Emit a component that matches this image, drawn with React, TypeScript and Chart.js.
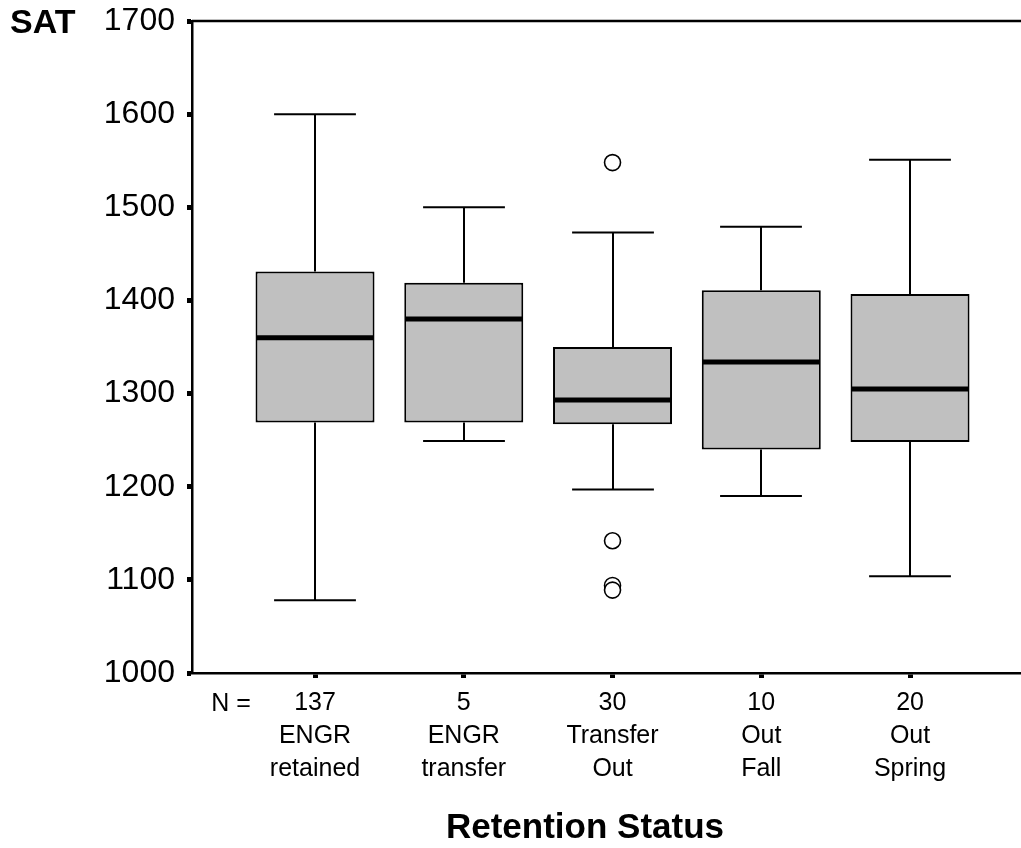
import React, { useEffect, useRef } from "react";
import { Chart, registerables } from "chart.js";
Chart.register(...registerables);

const categories = ["ENGR retained", "ENGR transfer", "Transfer Out", "Out Fall", "Out Spring"];
const nCounts = [137, 5, 30, 10, 20];
const whiskerLow = [1078, 1249, 1197, 1190, 1104];
const q1 = [1269, 1269, 1267, 1240, 1248];
const medians = [1360, 1380, 1293, 1334, 1305];
const q3 = [1431, 1419, 1350, 1411, 1407];
const whiskerHigh = [1600, 1500, 1473, 1479, 1551];
const outlierGroup = [2, 2, 2, 2];
const outlierValues = [1548, 1142, 1094, 1089];
const yMin = 1000;
const yMax = 1700;
const yStep = 100;
const xTitle = "Retention Status";
const yTitle = "SAT";
const nLabel = "N =";

const FONT = "'Liberation Sans', Arial, Helvetica, sans-serif";

export default function App() {
  const ref = useRef<HTMLCanvasElement>(null);
  useEffect(() => {
    document.body.style.margin = "0";
    const canvas = ref.current!;
    const line = (ctx: CanvasRenderingContext2D, x1: number, y1: number, x2: number, y2: number) => {
      ctx.beginPath();
      ctx.moveTo(x1, y1);
      ctx.lineTo(x2, y2);
      ctx.stroke();
    };
    const boxPlugin = {
      id: "boxplot",
      beforeDatasetsDraw(chart: any) {
        const { ctx } = chart;
        const xs = chart.scales.x;
        const ys = chart.scales.y;
        ctx.save();
        ctx.strokeStyle = "#000";
        ctx.lineWidth = 2;
        categories.forEach((_, i) => {
          const cx = Math.round(xs.getPixelForValue(i));
          const capHalf = xs.getPixelForValue(i + 0.275) - xs.getPixelForValue(i);
          line(ctx, cx, ys.getPixelForValue(q3[i]), cx, ys.getPixelForValue(whiskerHigh[i]));
          line(ctx, cx, ys.getPixelForValue(q1[i]), cx, ys.getPixelForValue(whiskerLow[i]));
          line(ctx, cx - capHalf, ys.getPixelForValue(whiskerHigh[i]), cx + capHalf, ys.getPixelForValue(whiskerHigh[i]));
          line(ctx, cx - capHalf, ys.getPixelForValue(whiskerLow[i]), cx + capHalf, ys.getPixelForValue(whiskerLow[i]));
        });
        ctx.restore();
      },
      afterDatasetsDraw(chart: any) {
        const { ctx } = chart;
        const ys = chart.scales.y;
        const meta = chart.getDatasetMeta(0);
        ctx.save();
        ctx.strokeStyle = "#000";
        ctx.lineWidth = 5;
        categories.forEach((_, i) => {
          const bar = meta.data[i];
          const { x, width } = bar.getProps(["x", "width"], true);
          const my = ys.getPixelForValue(medians[i]);
          line(ctx, x - width / 2 + 1, my, x + width / 2 - 1, my);
        });
        ctx.restore();
      },
      afterDraw(chart: any) {
        const { ctx, chartArea } = chart;
        const ys = chart.scales.y;
        ctx.save();
        ctx.strokeStyle = "#000";
        ctx.lineWidth = 2.5;
        const topY = ys.getPixelForValue(yMax);
        line(ctx, chartArea.left, topY, chart.width, topY);
        ctx.fillStyle = "#000";
        ctx.font = `bold 34px ${FONT}`;
        ctx.textAlign = "left";
        ctx.textBaseline = "middle";
        ctx.fillText(yTitle, 10, topY + 3);
        ctx.font = `25px ${FONT}`;
        ctx.textAlign = "center";
        ctx.fillText(nLabel, chartArea.left + 39, chartArea.bottom + 31);
        ctx.font = `bold 35px ${FONT}`;
        ctx.fillText(xTitle, chartArea.left + 393, chartArea.bottom + 155);
        ctx.restore();
      },
    };

    const chart = new Chart(canvas, {
      type: "bar",
      data: {
        datasets: [
          {
            type: "bar",
            data: categories.map((_, i) => ({ x: i, y: [q1[i], q3[i]] })) as any,
            backgroundColor: "#c0c0c0",
            borderColor: "#000",
            borderWidth: 2,
            borderSkipped: false,
            categoryPercentage: 1,
            barPercentage: 0.8,
          } as any,
          {
            type: "scatter",
            data: outlierGroup.map((g, i) => ({ x: g, y: outlierValues[i] })),
            pointRadius: 8,
            pointBackgroundColor: "#fff",
            pointBorderColor: "#000",
            pointBorderWidth: 1.6,
            showLine: false,
            clip: false,
          } as any,
        ],
      },
      options: {
        responsive: false,
        animation: false,
        devicePixelRatio: 1,
        layout: { autoPadding: false, padding: { top: 21, right: 0, left: 0, bottom: 0 } },
        plugins: { legend: { display: false }, tooltip: { enabled: false } },
        events: [],
        scales: {
          x: {
            type: "linear",
            offset: false,
            min: -0.827,
            max: 4.746,
            afterBuildTicks: (scale: any) => {
              scale.ticks = categories.map((_, i) => ({ value: i }));
            },
            afterFit: (scale: any) => {
              scale.height = 175;
              scale.paddingRight = 0;
              scale.paddingLeft = 0;
            },
            border: { display: true, color: "#000", width: 2.5 },
            grid: {
              display: true,
              offset: false,
              drawOnChartArea: false,
              drawTicks: true,
              tickLength: 5,
              tickWidth: 5,
              tickColor: "#000",
            },
            ticks: {
              color: "#000",
              padding: 9,
              maxRotation: 0,
              autoSkip: false,
              font: { family: FONT, size: 25, lineHeight: 1.32 },
              callback: (v: any) => [String(nCounts[v]), ...categories[v].split(" ")],
            },
          },
          y: {
            type: "linear",
            min: yMin,
            max: yMax,
            afterFit: (scale: any) => {
              scale.width = 192;
              scale.paddingTop = 0;
              scale.paddingBottom = 0;
            },
            border: { display: true, color: "#000", width: 2.5 },
            grid: {
              display: true,
              drawOnChartArea: false,
              drawTicks: true,
              tickLength: 5,
              tickWidth: 5,
              tickColor: "#000",
            },
            ticks: {
              stepSize: yStep,
              color: "#000",
              padding: 12,
              font: { family: FONT, size: 32 },
              callback: (v: any) => String(v),
            },
          },
        },
      } as any,
      plugins: [boxPlugin],
    });
    return () => chart.destroy();
  }, []);
  return (
    <div style={{ width: 1021, height: 848 }}>
      <canvas ref={ref} width={1021} height={848} style={{ display: "block" }} />
    </div>
  );
}
